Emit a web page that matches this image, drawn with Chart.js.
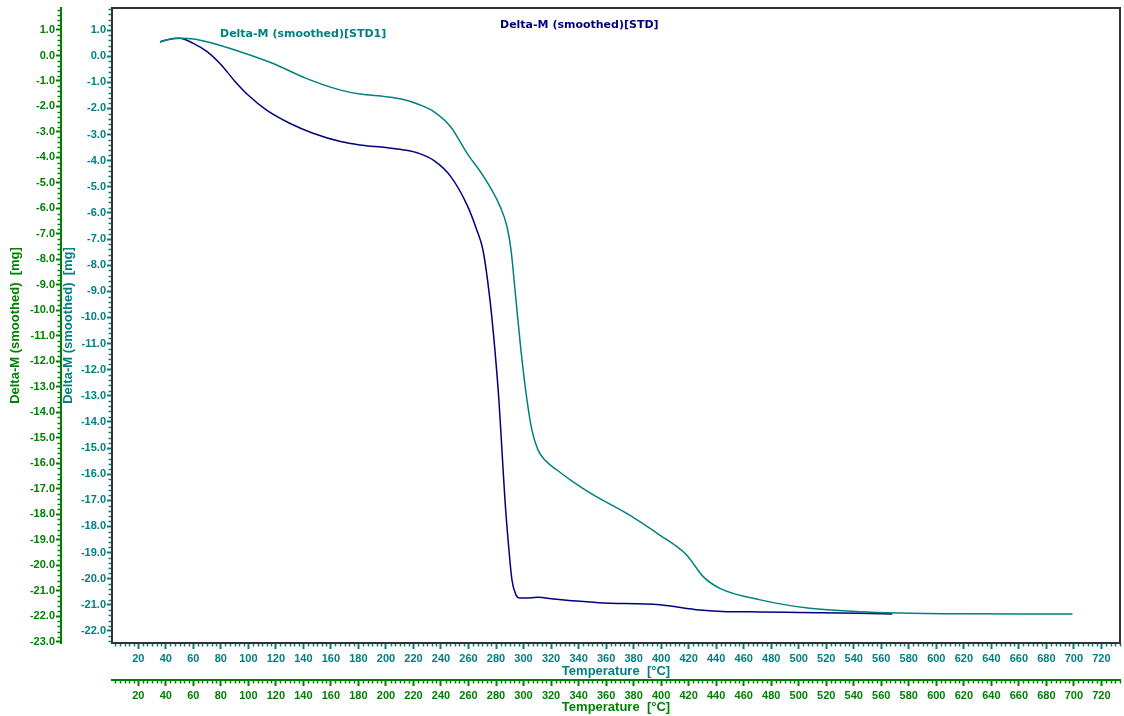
<!DOCTYPE html>
<html>
<head>
<meta charset="utf-8">
<script src="https://cdn.jsdelivr.net/npm/chart.js@4/dist/chart.umd.min.js"></script>
<style>
  html, body { margin: 0; padding: 0; background: #fff; }
  #wrap { width: 1124px; height: 716px; }
</style>
</head>
<body>
<div id="wrap"><canvas id="tgaChart" width="1124" height="716"></canvas></div>
<script>
// STD run (navy)
const stdTemp = [35.8, 42, 50, 60, 70, 80, 90, 100, 113, 130, 147, 167, 181, 200, 212, 224, 235, 247, 259, 266,
  270.5, 275.6, 279.2, 282.1, 284.3, 286.5, 289.4, 291.6, 294.5, 297.4, 302, 310, 324, 355, 399, 428, 448, 472, 500, 544, 568];
const stdMass = [0.54, 0.64, 0.68, 0.49, 0.17, -0.32, -0.95, -1.5, -2.06, -2.57, -2.95, -3.27, -3.40, -3.50, -3.58, -3.72, -4.0, -4.6, -5.7, -6.65,
  -7.42, -9.33, -11.25, -13.16, -15.07, -16.99, -18.9, -20.05, -20.62, -20.74, -20.74, -20.71, -20.79, -20.92, -21.0, -21.2, -21.26, -21.27, -21.29, -21.32, -21.35];

// STD1 run (teal)
const std1Temp = [35.8, 42, 50, 60, 70, 94, 118, 142, 167, 181, 200, 212, 224, 235, 247, 259, 271, 283, 288, 290.9,
  294.5, 298.1, 302.5, 306.1, 310.5, 315.5, 324.3, 336, 351, 375, 399, 418.5, 430.6, 442.7, 472, 508, 544, 573, 620, 699];
const std1Mass = [0.54, 0.64, 0.68, 0.66, 0.55, 0.17, -0.28, -0.85, -1.30, -1.45, -1.55, -1.65, -1.85, -2.13, -2.70, -3.72, -4.61, -5.76, -6.53, -7.42,
  -9.33, -11.25, -13.16, -14.31, -15.07, -15.46, -15.84, -16.29, -16.8, -17.5, -18.33, -19.09, -19.92, -20.37, -20.81, -21.13, -21.26, -21.31, -21.34, -21.35];

const seriesLabels = ["Delta-M (smoothed)[STD]", "Delta-M (smoothed)[STD1]"];
const xTitle = "Temperature  [°C]";
const yTitle = "Delta-M (smoothed)  [mg]";

// axis ranges
const tempRange = [0.9, 733.5];
const tealRange = [-22.46, 1.842];
const greenRange = [-23.05, 1.863];

const TEAL = "#008080";
const GREEN = "#008000";
const NAVY = "#000080";

const tickFont = { family: "'Liberation Sans', Arial, sans-serif", size: 11, weight: "bold" };
const titleFont = { family: "'Liberation Sans', Arial, sans-serif", size: 13, weight: "bold" };

function toPoints(xs, ys) {
  return xs.map((x, i) => ({ x, y: ys[i] }));
}

function xAxis(color, weight, height, border) {
  return {
    type: "linear", position: "bottom", weight,
    min: tempRange[0], max: tempRange[1],
    ticks: { stepSize: 20, includeBounds: false, autoSkip: false, maxRotation: 0, color, font: tickFont, padding: 3 },
    grid: { drawOnChartArea: false, drawTicks: true, tickLength: 6, tickWidth: 2, tickColor: color },
    border: { display: border, color, width: 2 },
    title: { display: true, text: xTitle, color, font: titleFont, padding: { top: 0, bottom: 1 } },
    afterFit: s => { s.height = height; }
  };
}

function yAxis(color, weight, width, range, titlePad, border) {
  return {
    type: "linear", position: "left", weight,
    min: range[0], max: range[1],
    ticks: { stepSize: 1, includeBounds: false, autoSkip: false, color, font: tickFont, padding: 1,
      callback: v => v.toFixed(1) },
    grid: { drawOnChartArea: false, drawTicks: true, tickLength: 5, tickWidth: 2, tickColor: color },
    border: { display: border, color, width: 2 },
    title: { display: true, text: yTitle, color, font: titleFont, padding: { top: titlePad, bottom: 0 } },
    afterFit: s => { s.width = width; }
  };
}

// minor tick marks between the labelled ones
const minorTicks = {
  id: "minorTicks",
  afterDraw(chart) {
    const { ctx } = chart;
    const specs = [
      { id: "x", per: 6, major: 20, color: TEAL },
      { id: "x2", per: 6, major: 20, color: GREEN },
      { id: "y", per: 5, major: 1, color: TEAL },
      { id: "y2", per: 5, major: 1, color: GREEN }
    ];
    ctx.save();
    ctx.lineWidth = 1.5;
    for (const sp of specs) {
      const s = chart.scales[sp.id];
      ctx.strokeStyle = sp.color;
      const step = sp.major / sp.per;
      const k0 = Math.ceil(s.min / step), k1 = Math.floor(s.max / step);
      for (let k = k0; k <= k1; k++) {
        if (k % sp.per === 0) continue;
        const p = Math.round(s.getPixelForValue(k * step)) + 0.5;
        ctx.beginPath();
        if (s.isHorizontal()) {
          ctx.moveTo(p, s.top);
          ctx.lineTo(p, s.top + 3.5);
        } else {
          ctx.moveTo(s.right, p);
          ctx.lineTo(s.right - 3.5, p);
        }
        ctx.stroke();
      }
    }
    ctx.restore();
  }
};

// plot frame and series captions
const frameAndCaptions = {
  id: "frameAndCaptions",
  afterDraw(chart) {
    const { ctx, chartArea: a } = chart;
    ctx.save();
    ctx.lineWidth = 2;
    ctx.strokeStyle = "#333";
    ctx.strokeRect(a.left, a.top, a.right - a.left, a.bottom - a.top);
    ctx.font = "bold 11px 'DejaVu Sans', sans-serif";
    ctx.textBaseline = "alphabetic";
    ctx.fillStyle = TEAL;
    ctx.fillText(seriesLabels[1], 220, 37);
    ctx.fillStyle = NAVY;
    ctx.fillText(seriesLabels[0], 500, 28);
    ctx.restore();
  }
};

new Chart(document.getElementById("tgaChart"), {
  type: "line",
  data: {
    datasets: [
      {
        label: seriesLabels[1],
        data: toPoints(std1Temp, std1Mass),
        borderColor: TEAL,
        borderWidth: 1.5,
        pointRadius: 0,
        cubicInterpolationMode: "monotone",
        xAxisID: "x", yAxisID: "y"
      },
      {
        label: seriesLabels[0],
        data: toPoints(stdTemp, stdMass),
        borderColor: NAVY,
        borderWidth: 1.5,
        pointRadius: 0,
        cubicInterpolationMode: "monotone",
        xAxisID: "x", yAxisID: "y"
      }
    ]
  },
  options: {
    responsive: false,
    animation: false,
    events: [],
    layout: { padding: { top: 8, right: 4, left: 0, bottom: 0 } },
    plugins: { legend: { display: false }, tooltip: { enabled: false } },
    scales: {
      x: xAxis(TEAL, 0, 37, false),
      x2: xAxis(GREEN, 1, 36, true),
      y: yAxis(TEAL, 0, 51, tealRange, 0, false),
      y2: yAxis(GREEN, 1, 61, greenRange, 8, true)
    }
  },
  plugins: [minorTicks, frameAndCaptions]
});
</script>
</body>
</html>
